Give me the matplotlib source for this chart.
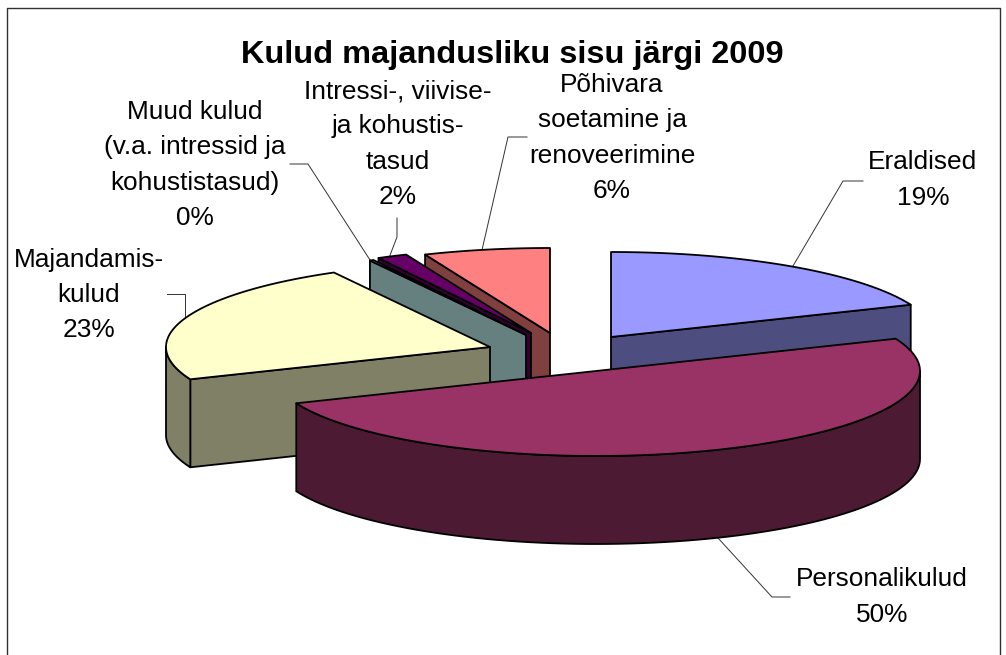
import numpy as np
import matplotlib
matplotlib.use("Agg")
import matplotlib.pyplot as plt

title = "Kulud majandusliku sisu järgi 2009"
names = ["Eraldised", "Personalikulud", "Majandamis-\nkulud",
         "Muud kulud\n(v.a. intressid ja\nkohustistasud)",
         "Intressi-, viivise-\nja kohustis-\ntasud",
         "Põhivara\nsoetamine ja\nrenoveerimine"]
values = [18.8, 50.0, 23.2, 0.2, 1.5, 6.3]
top_colors = ["#9999FF", "#993366", "#FFFFCC", "#CCFFFF", "#660066", "#FF8080"]
side_colors = ["#4D4D80", "#4D1A33", "#808066", "#668080", "#330033", "#804040"]

# apex of each exploded slice, in picture pixels
apex_x = [611, 596, 490, 526, 531, 550]
apex_y = [337, 371, 347, 335, 333, 333]
label_x = [923, 882, 89, 195, 398, 612]
label_y = [180, 597, 295, 165, 144, 138]
leaders = [
    [(793, 266), (843, 181), (863, 181)],
    [(718, 538), (772, 597), (790, 597)],
    [(185, 320), (185, 294), (167, 294)],
    [(370, 260), (308, 164), (290, 164)],
    [(389, 258), (397, 237), (397, 218)],
    [(482, 250), (508, 137), (527, 137)],
]
draw_order = [5, 4, 3, 0, 2, 1]

RX = 324
RY = 85
DEPTH = 88
EDGE = 1.3


def rim(x0, y0, t):
    r = np.radians(t)
    return x0 + RX * np.sin(r), y0 - RY * np.cos(r)


def draw_slice(ax, i, t0, t1, z):
    x0, y0 = apex_x[i], apex_y[i]
    kw = dict(facecolor=side_colors[i], edgecolor="black", linewidth=EDGE, joinstyle="round")
    # cut faces that look towards the viewer
    if np.sin(np.radians(t0)) < 0:
        xs, ys = rim(x0, y0, t0)
        ax.fill([x0, xs, xs, x0], [y0, ys, ys + DEPTH, y0 + DEPTH], zorder=z, **kw)
    if np.sin(np.radians(t1)) > 0:
        xs, ys = rim(x0, y0, t1)
        ax.fill([x0, xs, xs, x0], [y0, ys, ys + DEPTH, y0 + DEPTH], zorder=z, **kw)
    # outer wall
    a, b = max(t0, 90), min(t1, 270)
    if a < b:
        t = np.linspace(a, b, 80)
        xs, ys = rim(x0, y0, t)
        ax.fill(np.r_[xs, xs[::-1]], np.r_[ys, ys[::-1] + DEPTH], zorder=z, **kw)
    # top
    t = np.linspace(t0, t1, 100)
    xs, ys = rim(x0, y0, t)
    ax.fill(np.r_[x0, xs], np.r_[y0, ys], facecolor=top_colors[i], edgecolor="black",
            linewidth=EDGE, joinstyle="round", zorder=z)


fig = plt.figure(figsize=(10.06, 6.55), dpi=100, facecolor="white")
ax = fig.add_axes([0, 0, 1, 1])
ax.set_xlim(0, 1006)
ax.set_ylim(655, 0)
ax.axis("off")

plt.rcParams["font.family"] = ["Liberation Sans", "DejaVu Sans"]

# chart frame, open at the bottom like the crop
ax.plot([7.5, 7.5, 1000.5, 1000.5], [655, 7.5, 7.5, 655], color="#303030", lw=1.0, zorder=1)

edges = np.r_[0, np.cumsum(values)] * 3.6
for z, i in enumerate(draw_order):
    draw_slice(ax, i, edges[i], edges[i + 1], 3 + z)

for i, pts in enumerate(leaders):
    xs, ys = zip(*pts)
    ax.plot(xs, ys, color="#333333", lw=0.7, zorder=2)
    ax.text(label_x[i], label_y[i], f"{names[i]}\n{round(values[i]):.0f}%", ha="center", va="center",
            fontsize=18.9, linespacing=1.58, color="black", zorder=20)

ax.text(512, 55, title, ha="center", va="center", fontsize=23.4, fontweight="bold", color="black", zorder=20)

fig.savefig("out.png", dpi=100)
